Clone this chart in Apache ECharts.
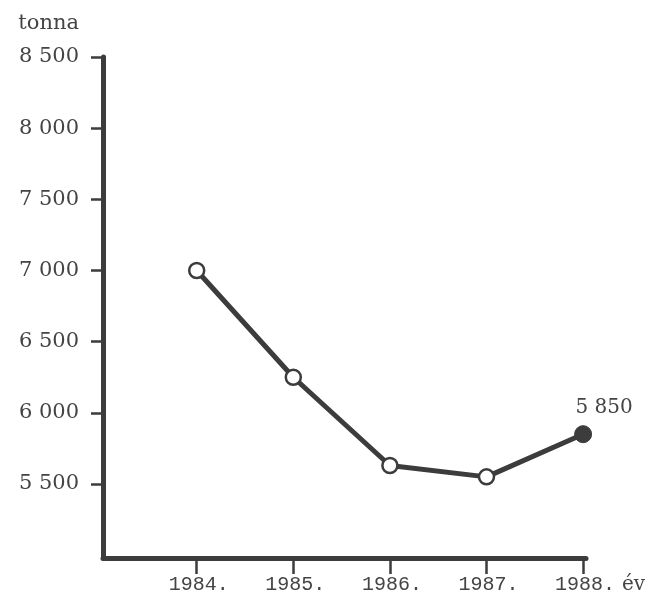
<!DOCTYPE html>
<html>
<head>
<meta charset="utf-8">
<script src="https://cdn.jsdelivr.net/npm/echarts@6/dist/echarts.min.js"></script>
<style>html,body{margin:0;padding:0;background:#fff}#c{width:661px;height:603px}</style>
</head>
<body>
<div id="c"></div>
<script>
const years = [1984, 1985, 1986, 1987, 1988];
const values = [7000, 6250, 5630, 5550, 5850];
const yTicks = [5500, 6000, 6500, 7000, 7500, 8000, 8500];
const xLabelSuffix = '.';
const yName = 'tonna';
const xName = 'év';
const lastLabel = '5 850';

function fmtThousands(v) {
  const s = String(v);
  return s.length > 3 ? s.slice(0, s.length - 3) + ' ' + s.slice(-3) : s;
}

const ink = '#3c3c3c';
const textCol = '#444';
const chart = echarts.init(document.getElementById('c'), null, {renderer: 'canvas'});
const seriesData = years.map((y, i) => {
  const last = i === years.length - 1;
  return {
    value: [y, values[i]],
    symbolSize: last ? 17 : 15,
    itemStyle: last ? {color: ink, borderColor: ink, borderWidth: 1} : {color: '#fff', borderColor: ink, borderWidth: 2.5},
    label: last ? {show: true, formatter: lastLabel, position: 'top', offset: [21, -2],
      fontFamily: 'DejaVu Serif', fontSize: 20, color: textCol} : {show: false}
  };
});

chart.setOption({
  animation: false,
  backgroundColor: '#fff',
  grid: {left: 103, right: 75, top: 57, bottom: 45},
  xAxis: {
    type: 'value', min: 1983.03, max: 1988.03,
    splitLine: {show: false},
    axisLine: {show: true, lineStyle: {color: ink, width: 5}},
    axisTick: {show: true, length: 16, inside: false, customValues: years, lineStyle: {color: ink, width: 2.5}},
    axisLabel: {customValues: years, formatter: v => v + xLabelSuffix, margin: 17,
      fontFamily: 'Liberation Mono', fontSize: 20, color: textCol, padding: [0, 0, 0, 4]},
    name: xName, nameLocation: 'end', nameGap: 36,
    nameTextStyle: {fontFamily: 'DejaVu Serif', fontSize: 20, color: textCol, verticalAlign: 'top', padding: [17, 0, 0, 0]}
  },
  yAxis: {
    type: 'value', min: 4980, max: 8500,
    splitLine: {show: false},
    axisLine: {show: true, lineStyle: {color: ink, width: 5}},
    axisTick: {show: true, length: 12, customValues: yTicks, lineStyle: {color: ink, width: 2.5}},
    axisLabel: {customValues: yTicks, formatter: v => fmtThousands(v), margin: 24,
      fontFamily: 'DejaVu Serif', fontSize: 21, color: textCol},
    name: yName, nameLocation: 'end', nameGap: 33,
    nameTextStyle: {fontFamily: 'DejaVu Serif', fontSize: 21, color: textCol, align: 'right', verticalAlign: 'middle', padding: [0, 24, 0, 0]}
  },
  series: [{
    type: 'line',
    data: seriesData,
    symbol: 'circle',
    lineStyle: {color: ink, width: 5},
    z: 3
  }]
});
</script>
</body>
</html>
